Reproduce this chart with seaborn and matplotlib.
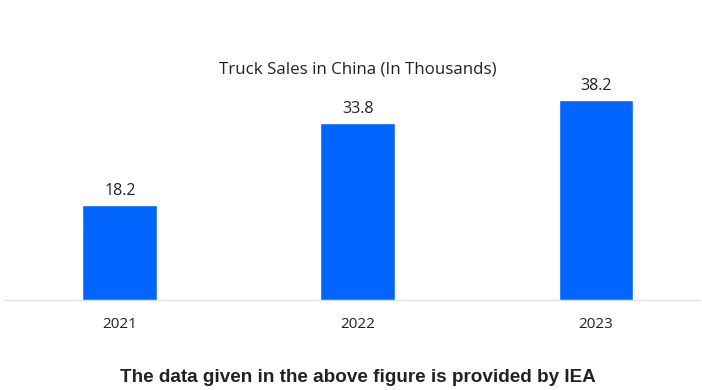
import matplotlib
matplotlib.use("Agg")
import matplotlib.pyplot as plt
import seaborn as sns

years=["2021","2022","2023"]          # categories
sales=[18.2,33.8,38.2]                # truck sales, thousands

def main():
    sns.set_style("white")
    plt.rcParams["font.family"]=["Open Sans","DejaVu Sans"]
    fig=plt.figure(figsize=(7.02,3.9),dpi=100)
    ax=fig.add_axes([5/702,90/390,695/702,236/390])
    sns.barplot(x=years,y=sales,color="#0066FF",width=0.315,saturation=1,ax=ax)
    ax.set_xlim(-0.483,2.437)
    ax.set_ylim(0,45.07)
    for i,v in enumerate(sales):      # value labels above bars
        ax.text(i,v+1.1,f"{v}",ha="center",va="bottom",fontsize=11.5,color="#222222")
    sns.despine(ax=ax,left=True)
    ax.spines["bottom"].set_color("#dddddd")
    ax.set_yticks([])
    ax.tick_params(axis="x",length=0,pad=12,labelsize=11,labelcolor="#222222")
    fig.text(358/702,1-69/390,"Truck Sales in China (In Thousands)",ha="center",va="center",fontsize=12.2,color="#222222")
    fig.text(358/702,1-378/390,"The data given in the above figure is provided by IEA",ha="center",va="center",
             fontsize=13.6,fontweight="bold",family="Liberation Sans",color="#222222")
    fig.savefig("out.png",dpi=100)

if __name__=="__main__":
    main()
